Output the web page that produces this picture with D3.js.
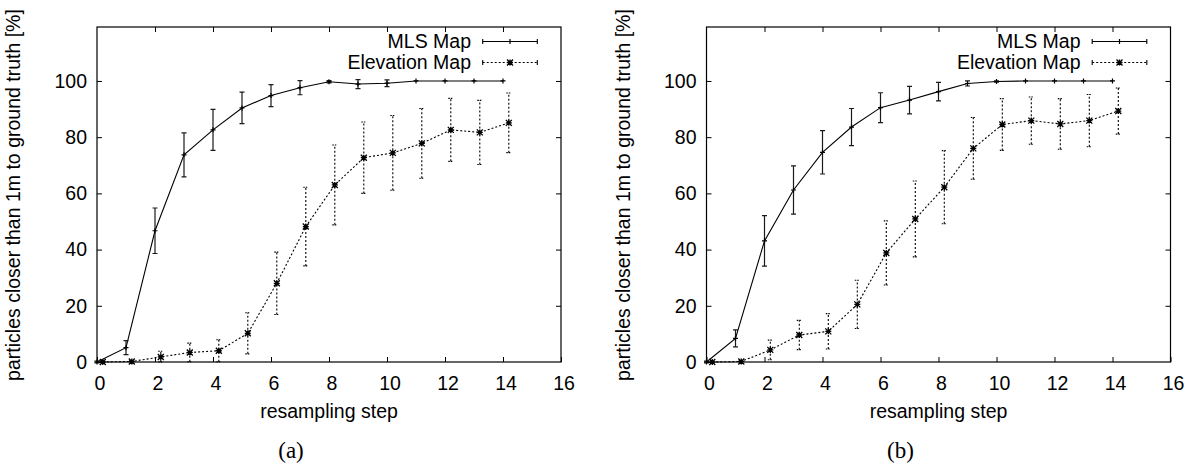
<!DOCTYPE html>
<html>
<head>
<meta charset="utf-8">
<script src="https://cdn.jsdelivr.net/npm/d3@7/dist/d3.min.js"></script>
<style>
  html, body { margin: 0; padding: 0; background: #fff; }
  svg { display: block; }
  text { font-family: "Liberation Sans", Arial, Helvetica, sans-serif; fill: #000; }
</style>
</head>
<body>
<svg id="chart" width="1195" height="469"></svg>
<script>
// Resampling steps shared by both panels
const steps = [0, 1, 2, 3, 4, 5, 6, 7, 8, 9, 10, 11, 12, 13, 14];

// Panel (a)
const mlsA      = [0, 5.1, 46.7, 73.7, 82.6, 90.4, 94.8, 97.6, 99.7, 98.9, 99.2, 100, 100, 100, 100];
const mlsAErr   = [0.3, 2.5, 8.1, 7.8, 7.3, 5.6, 3.9, 2.5, 0.4, 1.6, 1.2, 0, 0, 0, 0];
const elevA     = [0, 0.2, 1.8, 3.4, 4.0, 10.2, 28.0, 48.2, 63.0, 72.7, 74.4, 77.8, 82.6, 81.7, 85.1];
const elevAErr  = [0, 0.3, 2.0, 3.3, 3.9, 7.3, 11.1, 14.0, 14.2, 12.7, 13.3, 12.4, 11.2, 11.4, 10.6];

// Panel (b)
const mlsB      = [0, 8.4, 43.1, 61.2, 74.6, 83.6, 90.5, 93.2, 96.2, 99.1, 99.8, 100, 100, 100, 100];
const mlsBErr   = [0.3, 3.0, 9.0, 8.6, 7.7, 6.6, 5.3, 4.9, 3.3, 0.9, 0.2, 0, 0, 0, 0];
const elevB     = [0, 0.2, 4.3, 9.6, 10.9, 20.5, 38.8, 50.9, 62.2, 76.0, 84.5, 85.9, 84.7, 85.9, 89.3];
const elevBErr  = [0, 0.3, 3.5, 5.2, 6.3, 8.6, 11.4, 13.5, 13.0, 11.0, 9.2, 8.4, 9.0, 9.3, 8.2];

// Axis ticks and labels
const xTicks = [0, 2, 4, 6, 8, 10, 12, 14, 16];
const yTicks = [0, 20, 40, 60, 80, 100];
const seriesNames = ["MLS Map", "Elevation Map"];
const xTitle = "resampling step";
const yTitle = "particles closer than 1m to ground truth [%]";
const captions = ["(a)", "(b)"];

const svg = d3.select("#chart");
const FONT = 19.5;

// plot frame geometry inside each panel group
const frame = { left: 97, right: 561, top: 27, bottom: 362 };
const x = d3.scaleLinear().domain([0, 16]).range([frame.left, frame.right]);
const y = d3.scaleLinear().domain([0, 119.2]).range([frame.bottom, frame.top]);

const ELEV_SHIFT = 0.2;   // elevation series drawn slightly right of each step
const CAP = 2.5;          // half-width of error bar caps
const DOTS = "2,2";

function plusMarker(g, cx, cy, r, stroke) {
  g.append("path")
    .attr("d", `M${cx - r},${cy}H${cx + r}M${cx},${cy - r}V${cy + r}`)
    .attr("stroke", stroke).attr("stroke-width", 1.2).attr("fill", "none");
}
function starMarker(g, cx, cy, r) {
  g.append("path")
    .attr("d", `M${cx - r},${cy}H${cx + r}M${cx},${cy - r}V${cy + r}` +
               `M${cx - r},${cy - r}L${cx + r},${cy + r}M${cx - r},${cy + r}L${cx + r},${cy - r}`)
    .attr("stroke", "#000").attr("stroke-width", 1.3).attr("fill", "none");
}

function drawPanel(offsetX, mls, mlsErr, elev, elevErr, caption) {
  const g = svg.append("g").attr("transform", `translate(${offsetX},0)`);

  // axes with inward ticks
  const bottom = g.append("g").attr("transform", `translate(0,${frame.bottom})`)
    .call(d3.axisBottom(x).tickValues(xTicks).tickSize(-5).tickPadding(14).tickFormat(d3.format("d")));
  const left = g.append("g").attr("transform", `translate(${frame.left},0)`)
    .call(d3.axisLeft(y).tickValues(yTicks).tickSize(-5).tickPadding(10).tickFormat(d3.format("d")));
  const top = g.append("g").attr("transform", `translate(0,${frame.top})`)
    .call(d3.axisTop(x).tickValues(xTicks.slice(1, -1)).tickSize(-5).tickFormat(""));
  const right = g.append("g").attr("transform", `translate(${frame.right},0)`)
    .call(d3.axisRight(y).tickValues(yTicks.slice(1)).tickSize(-5).tickFormat(""));
  [bottom, left, top, right].forEach(a => {
    a.select(".domain").remove();
    a.selectAll("line").attr("stroke", "#000").attr("stroke-width", 1);
    a.selectAll("text").attr("font-size", FONT).attr("font-family", "Liberation Sans, Arial, sans-serif");
  });
  bottom.selectAll("text").attr("dx", 2.5);

  g.append("rect")
    .attr("x", frame.left).attr("y", frame.top)
    .attr("width", frame.right - frame.left).attr("height", frame.bottom - frame.top)
    .attr("fill", "none").attr("stroke", "#000").attr("stroke-width", 1.2);

  // titles
  g.append("text")
    .attr("x", (frame.left + frame.right) / 2).attr("y", 418)
    .attr("text-anchor", "middle").attr("font-size", FONT).text(xTitle);
  g.append("text")
    .attr("transform", `translate(13,${(frame.top + frame.bottom) / 2 + 0.5}) rotate(-90)`)
    .attr("text-anchor", "middle").attr("dominant-baseline", "central")
    .attr("font-size", FONT).text(yTitle);
  g.append("text")
    .attr("x", 291).attr("y", 458)
    .attr("text-anchor", "middle").attr("font-size", 23)
    .style("font-family", "'Liberation Serif', 'DejaVu Serif', serif").text(caption);

  // MLS Map: solid line with error bars
  const mlsPts = steps.map((s, i) => ({ s, v: mls[i], e: mlsErr[i] }));
  g.append("path").datum(mlsPts)
    .attr("d", d3.line().x(d => x(d.s)).y(d => y(d.v)))
    .attr("fill", "none").attr("stroke", "#000").attr("stroke-width", 1.1);
  const mlsBars = g.append("g").attr("stroke", "#1a1a1a").attr("stroke-width", 1.2).attr("fill", "none");
  mlsPts.forEach(d => {
    if (d.e <= 0) return;
    const cx = x(d.s), y0 = y(d.v - d.e), y1 = y(d.v + d.e);
    mlsBars.append("path").attr("d", `M${cx},${y0}V${y1}M${cx - CAP},${y0}H${cx + CAP}M${cx - CAP},${y1}H${cx + CAP}`);
  });
  mlsPts.forEach(d => plusMarker(g, x(d.s), y(d.v), 2.5, "#000"));

  // Elevation Map: dotted line with dotted error bars
  const elevPts = steps.map((s, i) => ({ s: s + ELEV_SHIFT, v: elev[i], e: elevErr[i] }));
  g.append("path").datum(elevPts)
    .attr("d", d3.line().x(d => x(d.s)).y(d => y(d.v)))
    .attr("fill", "none").attr("stroke", "#000").attr("stroke-width", 1.1)
    .attr("stroke-dasharray", DOTS);
  const elevBars = g.append("g").attr("stroke", "#000").attr("stroke-width", 1.1)
    .attr("fill", "none").attr("stroke-dasharray", DOTS);
  elevPts.forEach(d => {
    if (d.e <= 0) return;
    const cx = x(d.s), y0 = y(Math.max(0, d.v - d.e)), y1 = y(d.v + d.e);
    elevBars.append("path").attr("d", `M${cx},${y0}V${y1}`);
    elevBars.append("path").attr("d", `M${cx - CAP},${y0}H${cx + CAP}M${cx - CAP},${y1}H${cx + CAP}`)
      .attr("stroke-dasharray", "1.5,1");
  });
  elevPts.forEach(d => starMarker(g, x(d.s), y(d.v), 3));

  // legend
  const lx0 = frame.right - 78.3, lx1 = frame.right - 23.7, lxm = (lx0 + lx1) / 2;
  const ly = [41.5, 62.5];
  seriesNames.forEach((name, i) => {
    g.append("text")
      .attr("x", frame.right - 90).attr("y", ly[i])
      .attr("dy", "0.35em").attr("text-anchor", "end")
      .attr("font-size", FONT).text(name);
    const dash = i === 1 ? DOTS : null;
    g.append("path")
      .attr("d", `M${lx0},${ly[i]}H${lx1}`)
      .attr("stroke", "#000").attr("stroke-width", 1.1).attr("fill", "none")
      .attr("stroke-dasharray", dash);
    g.append("path")
      .attr("d", `M${lx0},${ly[i] - CAP}V${ly[i] + CAP}M${lx1},${ly[i] - CAP}V${ly[i] + CAP}`)
      .attr("stroke", "#000").attr("stroke-width", 1.1).attr("fill", "none");
    if (i === 0) plusMarker(g, lxm, ly[i], 2.5, "#000");
    else starMarker(g, lxm, ly[i], 3);
  });
}

drawPanel(0, mlsA, mlsAErr, elevA, elevAErr, captions[0]);
drawPanel(609.5, mlsB, mlsBErr, elevB, elevBErr, captions[1]);
</script>
</body>
</html>
